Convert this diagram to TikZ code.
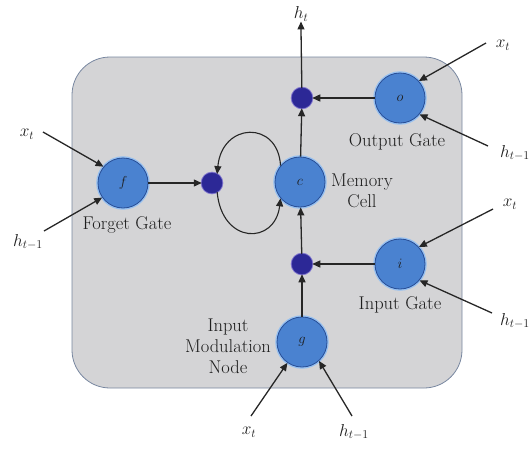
\documentclass[tikz,border=0pt]{standalone}
\usetikzlibrary{arrows.meta}
\definecolor{bgfill}{RGB}{212,212,214}
\definecolor{bgline}{RGB}{120,135,160}
\definecolor{gatefill}{RGB}{74,130,208}
\definecolor{gateline}{RGB}{40,78,150}
\definecolor{gatehalo}{RGB}{150,192,240}
\definecolor{mulfill}{RGB}{44,40,150}
\definecolor{mulhalo}{RGB}{125,115,205}
\definecolor{txt}{RGB}{30,30,30}
\tikzset{
  gate/.style={circle, minimum size=50pt, inner sep=0pt, fill=gatefill, draw=gateline, line width=0.8pt,
    preaction={draw=gatehalo, line width=3.5pt}, text=txt, font=\fontsize{15}{15}\selectfont},
  mul/.style={circle, minimum size=20pt, inner sep=0pt, fill=mulfill, draw=mulfill, line width=0.5pt,
    preaction={draw=mulhalo, line width=2.5pt}},
  lbl/.style={text=txt, font=\fontsize{18.5}{21}\selectfont, align=center, inner sep=0pt},
  arr/.style={-{Triangle[length=8pt,width=7pt]}, line width=1.3pt, draw=black!85}
}
\begin{document}
\begin{tikzpicture}[x=1pt,y=-1pt]
\useasboundingbox (0,0) rectangle (532,450);
\draw[fill=bgfill, draw=bgline, line width=0.8pt, rounded corners=38pt] (72,57) rectangle (462,388);

% gates and multipliers
\node[gate] (f) at (123,183) {$f$};
\node[gate] (c) at (300,182) {$c$};
\node[gate] (o) at (400,98) {$o$};
\node[gate] (i) at (400,264) {$i$};
\node[gate] (g) at (302,342) {$g$};
\node[mul] (m1) at (212,183) {};
\node[mul] (m2) at (302,98) {};
\node[mul] (m3) at (302,264) {};

% labels
\node[lbl] (ht) at (301,14) {$h_t$};
\node[lbl] (og) at (397,142) {Output Gate};
\node[lbl] (mc) at (362,191) {Memory\\Cell};
\node[lbl] (fg) at (127,225) {Forget Gate};
\node[lbl] (ig) at (400,305) {Input Gate};
\node[lbl] (imn) at (228,346) {Input\\Modulation\\Node};

\node[lbl] (xf) at (27,134) {$x_t$};
\node[lbl] (hf) at (28,242) {$h_{t-1}$};
\node[lbl] (xo) at (503,45) {$x_t$};
\node[lbl, anchor=east] (ho) at (530,153) {$h_{t-1}$};
\node[lbl] (xi) at (510,204) {$x_t$};
\node[lbl, anchor=east] (hi) at (530,321) {$h_{t-1}$};
\node[lbl] (xg) at (249,432) {$x_t$};
\node[lbl] (hg) at (354,432) {$h_{t-1}$};

% arrow tails
\coordinate (txf) at (43,132);
\coordinate (thf) at (44,231);
\coordinate (txo) at (486,43);
\coordinate (tho) at (488,146);
\coordinate (txi) at (493,209);
\coordinate (thi) at (492,313);
\coordinate (txg) at (251,416);
\coordinate (thg) at (352,416);

% internal connectors
\draw[arr] (f) -- (m1);
\draw[arr] (o) -- (m2);
\draw[arr] (c) -- (m2);
\draw[arr] (m2) -- (301,30) -- (ht.south);
\draw[arr] (i) -- (m3);
\draw[arr] (g) -- (m3);
\draw[arr] (m3) -- (c);
\draw[arr, line width=1.1pt] (c.140) .. controls (278,120) and (222,122) .. (m1.60);
\draw[arr, line width=1.1pt] (m1.-60) .. controls (222,245) and (275,245) .. (c.-140);

% inputs
\draw[arr] (txf) -- (f.140);
\draw[arr] (thf) -- (f.215);
\draw[arr] (txo) -- (o.42);
\draw[arr] (tho) -- (o.-40);
\draw[arr] (txi) -- (i.42);
\draw[arr] (thi) -- (i.-40);
\draw[arr] (txg) -- (g.-125);
\draw[arr] (thg) -- (g.-48);
\end{tikzpicture}
\end{document}
